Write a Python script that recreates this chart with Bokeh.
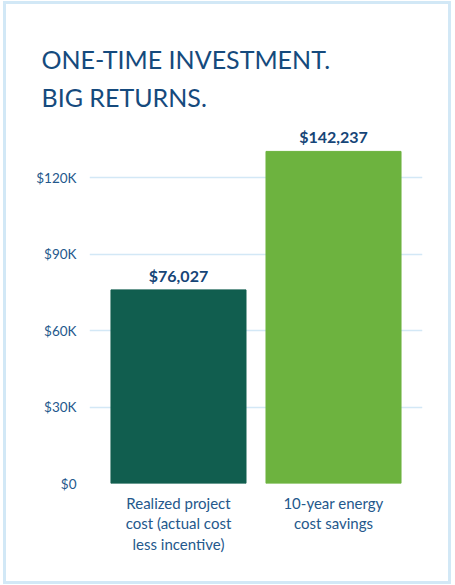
from bokeh.plotting import figure
from bokeh.models import ColumnDataSource, FixedTicker, LabelSet, FactorRange, Range1d
from bokeh.layouts import column
from bokeh.core.properties import value
from bokeh.embed import file_html
from bokeh.resources import INLINE

categories = ["Realized project\ncost (actual cost\nless incentive)", "10-year energy\ncost savings"]
values = [76027, 142237]
value_labels = ["$76,027", "$142,237"]
bar_colors = ["#115e4f", "#6db33f"]
tick_values = [0, 30000, 60000, 90000, 120000]
tick_labels = ["$0", "$30K", "$60K", "$90K", "$120K"]
title_text = "ONE-TIME INVESTMENT.\nBIG RETURNS."

# the reference truncates the tall bar at the top of its plot area
BAR_CAP = 130400
Y_END = 144500
bar_top = [min(v, BAR_CAP) for v in values]

src = ColumnDataSource(dict(cat=categories, val=values, top=bar_top,
                            lab=value_labels, color=bar_colors))

p = figure(width=442, height=577,
           x_range=FactorRange(factors=categories, range_padding=0.074),
           y_range=Range1d(0, Y_END),
           output_backend="svg", toolbar_location=None,
           min_border_left=83, min_border_right=26,
           min_border_top=111, min_border_bottom=98)

p.vbar(x="cat", top="top", width=0.871, color="color", source=src)

labels = LabelSet(x="cat", y="top", text="lab", source=src, text_align="center",
                  text_baseline="bottom", y_offset=5,
                  text_font=value("Lato"), text_font_size=value("16px"),
                  text_font_style="bold", text_color="#164577")
p.add_layout(labels)

p.title.text = title_text
p.title.text_font = "Lato"
p.title.text_font_size = "25px"
p.title.text_font_style = "normal"
p.title.text_color = "#154a7d"
p.title.align = "left"
p.title.offset = -48
p.title.standoff = 6
p.title.text_line_height = 1.27

p.yaxis.ticker = FixedTicker(ticks=tick_values)
p.yaxis.major_label_overrides = dict(zip(tick_values, tick_labels))
for ax in (p.xaxis, p.yaxis):
    ax.axis_line_color = None
    ax.major_tick_line_color = None
    ax.minor_tick_line_color = None
    ax.major_label_text_font = "Lato"
    ax.major_label_text_color = "#24588c"
p.yaxis.major_label_text_font_size = "13.5px"
p.yaxis.major_label_standoff = 7
p.xaxis.major_label_text_font_size = "15px"
p.xaxis.major_label_text_line_height = 1.16
p.xaxis.major_label_standoff = 4

p.xgrid.grid_line_color = None
p.ygrid.grid_line_color = "#d3e8f6"
p.ygrid.grid_line_width = 1.5
p.outline_line_color = None

layout = column(p, styles={"border": "3px solid #d2e8f6",
                           "margin-left": "3px", "margin-top": "1px"})

open("out.html", "w").write(file_html(layout, INLINE))
